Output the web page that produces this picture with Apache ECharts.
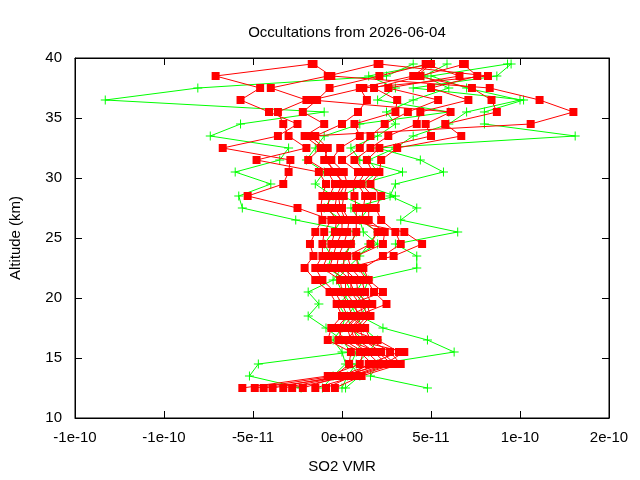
<!DOCTYPE html>
<html>
<head>
<meta charset="utf-8">
<script src="https://cdn.jsdelivr.net/npm/echarts@6/dist/echarts.min.js"></script>
<style>
  html, body { margin: 0; padding: 0; background: #fff; }
  #chart { width: 640px; height: 480px; }
</style>
</head>
<body>
<div id="chart"></div>
<script>
// altitude levels (km), bottom to top
const altitudes = [12.5, 13.5, 14.5, 15.5, 16.5, 17.5, 18.5, 19.5, 20.5, 21.5, 22.5, 23.5, 24.5, 25.5,
  26.5, 27.5, 28.5, 29.5, 30.5, 31.5, 32.5, 33.5, 34.5, 35.5, 36.5, 37.5, 38.5, 39.5];

// SO2 VMR profiles, values in units of 1e-12
const red1 = [-56, -8, 10, 12, 1, -3, 3, 0, -4, -11, -15, -11, -11, -10, -6, -25, -53, -33, -30, -29, -67, -36, -25, -41, -57, -46, -71, -17];
const red2 = [-49, -4, 4, 5, -8, -6, 0, -3, -7, -15, -21, -16, -18, -15, -11, -12, -11, -9, -13, -48, -20, -30, -33, -36, -20, -40, -8, 20];
const red3 = [-39, -1, 17, 10, -2, 0, 6, 3, 0, -1, -11, -8, -6, -4, -3, -8, -7, -4, -8, -19, -12, -21, -10, -22, -14, -7, 21, 48];
const red4 = [-33, 2, 21, 14, 5, 3, 9, 7, 2, 2, -7, -5, -3, 0, 0, -4, -3, 0, -3, -10, -8, -15, 0, 9, 14, 10, 40, 49];
const red5 = [-28, 5, 25, 18, 9, 6, 12, 10, 5, 5, -3, -2, 1, 3, 4, 0, 1, 3, 1, -6, -1, 10, 7, 30, 31, 18, 44, 69];
const red6 = [-15, 8, 30, 22, 12, 10, 16, 14, 9, 8, 1, 1, 5, 8, 8, 8, 7, 6, 9, 0, 10, 16, 24, 37, 54, 26, 66, 47];
const red7 = [-4, 11, 33, 27, 16, 13, 4, 17, 13, 11, 5, 3, 16, 20, 11, 12, 13, 9, 13, 7, 16, 26, 42, 44, 71, 50, 76, 68];
const red8 = [-44, 4, 15, 32, 20, 2, 8, 25, 18, 14, 9, 8, 23, 24, 15, 15, 17, 11, 17, 14, 21, 50, 47, 61, -17, 12, 82, 21];
const red9 = [-22, 0, 24, 35, 7, 5, 11, 5, 23, 15, 12, 23, 33, 30, 22, 19, 22, 16, 21, 22, 31, 67, 58, 87, 84, 73, 42, 50];
const red10 = [-9, 6, 28, 20, 3, 8, 14, 12, 7, 4, 3, 29, 45, 35, 2, -1, -2, 2, -5, -8, -10, -18, 106, 130, 111, 83, -6, -16];

const green1 = [-23, -52, -47, 5, 0, -9, -19, -13, -19, -5, 0, 2, 5, 8, -26, -56, -58, -40, -60, -35, -30, -74, -57, -10, -133, -81, 25, 40];
const green2 = [48, 16, 20, 63, 48, 23, 10, 15, 8, 12, 42, 42, 30, 65, 33, 42, 27, 30, 57, 44, 20, 131, 80, 80, 102, 40, 87, 95];
const green3 = [2, 10, 5, 8, 12, 5, 3, 8, 12, 15, 10, 8, 20, 12, 10, 5, 30, 10, 34, 10, 5, 20, 30, 25, 40, 60, 46, 59];
const green4 = [-11, -5, 2, 0, -5, 0, 2, -2, 5, 2, -8, -6, -10, -5, 0, -10, -5, -15, -10, -20, -15, -10, 10, 60, 20, 30, 15, 50];
const green5 = [0, 3, 8, 15, 20, 12, 8, 5, 0, -3, 3, 10, 15, 20, 10, 15, 0, 12, 20, 15, 30, 40, 60, 70, 100, 70, 50, 93];

const redProfiles = [red1, red2, red3, red4, red5, red6, red7, red8, red9, red10];
const greenProfiles = [green1, green2, green3, green4, green5];

// x tick labels as gnuplot printed them
const xTickLabels = ['-1e-10', '-1e-10', '-5e-11', '0e+00', '5e-11', '1e-10', '2e-10'];

const font = 'Liberation Sans, Arial, sans-serif';
const fontSize = 15;
const plusPath = 'path://M0,4.45H10V5.55H0Z M4.45,0H5.55V10H4.45Z';

function toPairs(profile) {
  return profile.map((v, i) => [v, altitudes[i]]);
}

const series = [];
greenProfiles.forEach(p => {
  series.push({
    type: 'line',
    data: toPairs(p),
    symbol: plusPath,
    symbolSize: 9,
    showAllSymbol: true,
    itemStyle: { color: '#00ff00' },
    lineStyle: { color: '#00ff00', width: 1 },
    z: 2,
  });
});
redProfiles.forEach(p => {
  series.push({
    type: 'line',
    data: toPairs(p),
    symbol: 'rect',
    symbolSize: 8,
    showAllSymbol: true,
    itemStyle: { color: '#ff0000' },
    lineStyle: { color: '#ff0000', width: 1 },
    z: 3,
  });
});

const chart = echarts.init(document.getElementById('chart'));

const tickStyle = { show: true, inside: true, length: 7, lineStyle: { color: '#000', width: 1 } };
const lineStyle = { show: true, onZero: false, lineStyle: { color: '#000', width: 1 } };

const option = {
  animation: false,
  title: {
    text: 'Occultations from 2026-06-04',
    left: 342,
    top: 20,
    textAlign: 'center',
    textStyle: { fontFamily: font, fontSize: fontSize, fontWeight: 'normal', color: '#000' },
  },
  grid: { left: 75, right: 31, top: 58, bottom: 62, show: true, borderColor: '#000', borderWidth: 1 },
  xAxis: [
    {
      type: 'value',
      min: -150,
      max: 150,
      interval: 50,
      name: 'SO2 VMR',
      nameLocation: 'middle',
      nameGap: 41,
      nameTextStyle: { fontFamily: font, fontSize: fontSize, color: '#000' },
      axisLine: lineStyle,
      axisTick: tickStyle,
      splitLine: { show: false },
      axisLabel: {
        fontFamily: font, fontSize: fontSize, color: '#000', margin: 12,
        formatter: v => xTickLabels[Math.round((v + 150) / 50)],
      },
    },
    {
      type: 'value',
      position: 'top',
      min: -150,
      max: 150,
      interval: 50,
      axisLine: lineStyle,
      axisTick: tickStyle,
      axisLabel: { show: false },
      splitLine: { show: false },
    },
  ],
  yAxis: [
    {
      type: 'value',
      min: 10,
      max: 40,
      interval: 5,
      name: 'Altitude (km)',
      nameLocation: 'middle',
      nameGap: 52,
      nameRotate: 90,
      nameTextStyle: { fontFamily: font, fontSize: fontSize, color: '#000' },
      axisLine: lineStyle,
      axisTick: tickStyle,
      splitLine: { show: false },
      axisLabel: { fontFamily: font, fontSize: fontSize, color: '#000', margin: 13 },
    },
    {
      type: 'value',
      position: 'right',
      min: 10,
      max: 40,
      interval: 5,
      axisLine: lineStyle,
      axisTick: tickStyle,
      axisLabel: { show: false },
      splitLine: { show: false },
    },
  ],
  series: series,
};

chart.setOption(option);
</script>
</body>
</html>
